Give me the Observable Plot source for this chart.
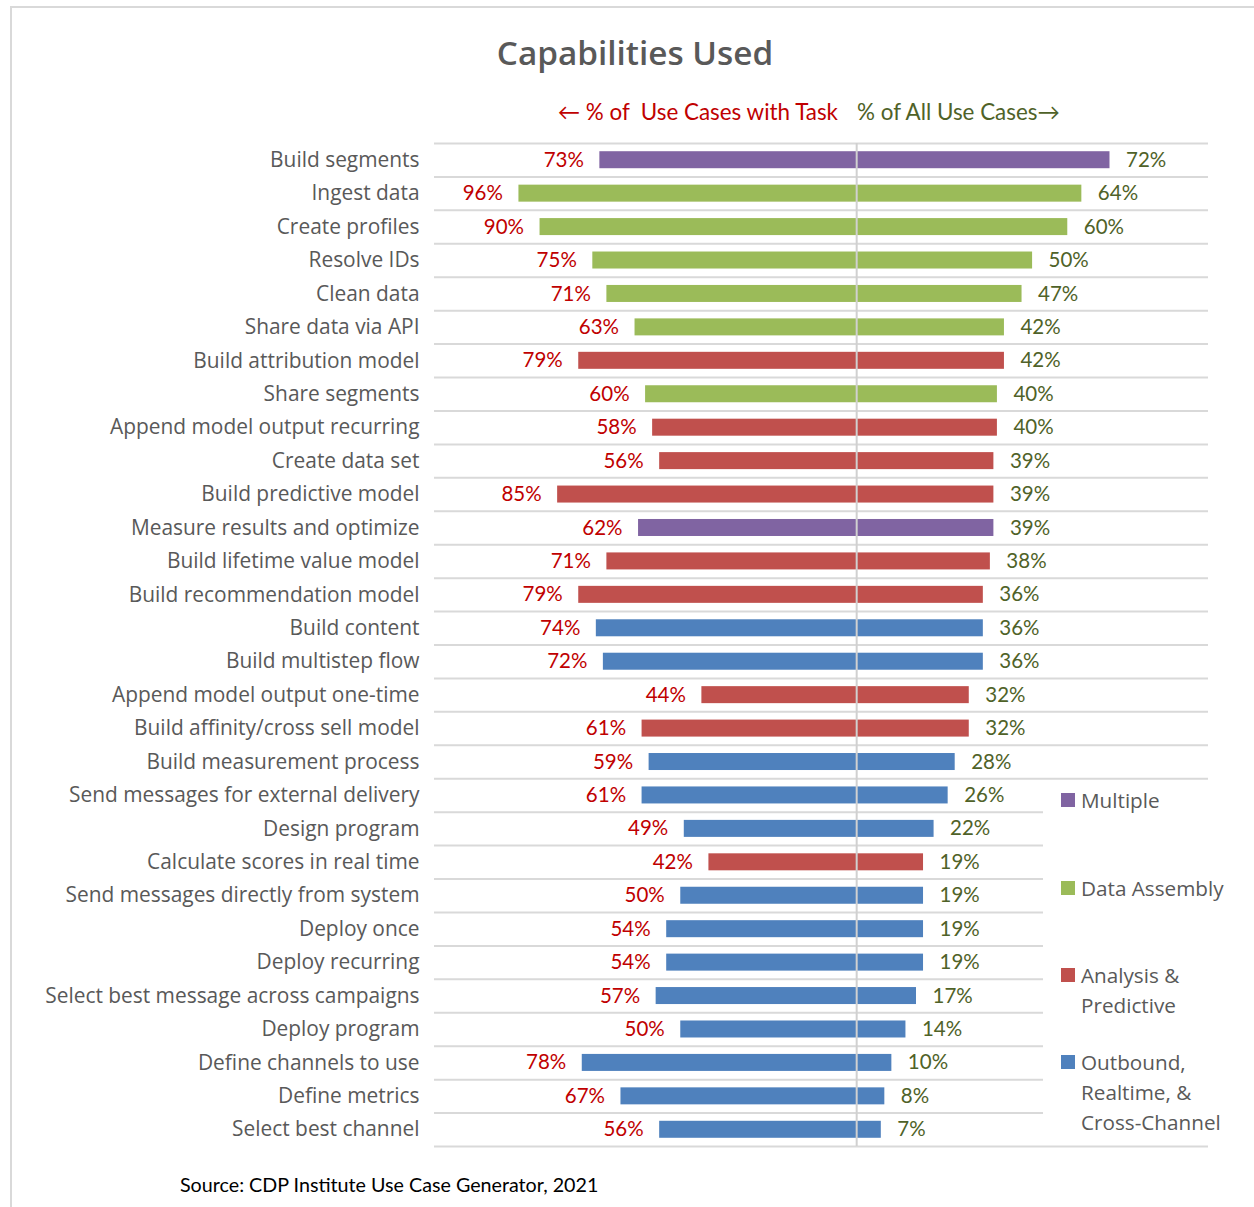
<!DOCTYPE html>
<html>
<head>
<meta charset="utf-8">
<script src="https://cdn.jsdelivr.net/npm/d3@7"></script>
<script src="https://cdn.jsdelivr.net/npm/@observablehq/plot@0.6"></script>
<style>
  body { margin: 0; background: #fff; font-family: Lato, "Noto Sans", sans-serif; }
  #page { position: relative; width: 1254px; height: 1207px; overflow: hidden; }
  #frame { position: absolute; left: 10px; top: 6px; width: 1300px; height: 1300px;
           border-left: 2px solid #d9d9d9; border-top: 2px solid #d9d9d9; }
  #chart { position: absolute; left: 0; top: 0; }
  #title { position: absolute; left: 0; width: 1270px; top: 29px; text-align: center;
           font-family: "Open Sans", sans-serif; font-weight: 600; font-size: 33.3px; color: #595959; white-space: nowrap; }
  .sub { position: absolute; top: 98px; font-size: 22.4px; white-space: nowrap; }
  #subL { right: 416px; color: #C00000; }
  #subR { left: 857px; color: #4F6228; }
  #legend { position: absolute; left: 1043px; top: 781px; width: 211px; height: 363px; background: #fff; }
  .item { position: absolute; left: 18px; font-family: "Open Sans", sans-serif; font-size: 20.7px; line-height: 30px; color: #595959; }
  .sw { position: absolute; left: 0; top: 8px; width: 14px; height: 14px; }
  .lab { position: absolute; left: 20px; top: 0; white-space: nowrap; }
  #footer { position: absolute; left: 180px; top: 1173px; font-size: 19.7px; color: #000; white-space: nowrap; }
</style>
</head>
<body>
<div id="page">
  <div id="frame"></div>
  <div id="chart"></div>
  <div id="title">Capabilities Used</div>
  <div class="sub" id="subL">← % of&nbsp; Use Cases with Task</div>
  <div class="sub" id="subR">% of All Use Cases→</div>
  <div id="legend"></div>
  <div id="footer">Source: CDP Institute Use Case Generator, 2021</div>
</div>
<script>
const tasks = [
  "Build segments", "Ingest data", "Create profiles", "Resolve IDs", "Clean data",
  "Share data via API", "Build attribution model", "Share segments",
  "Append model output recurring", "Create data set", "Build predictive model",
  "Measure results and optimize", "Build lifetime value model",
  "Build recommendation model", "Build content", "Build multistep flow",
  "Append model output one-time", "Build affinity/cross sell model",
  "Build measurement process", "Send messages for external delivery",
  "Design program", "Calculate scores in real time",
  "Send messages directly from system", "Deploy once", "Deploy recurring",
  "Select best message across campaigns", "Deploy program",
  "Define channels to use", "Define metrics", "Select best channel"
];
const pctWithTask = [73, 96, 90, 75, 71, 63, 79, 60, 58, 56, 85, 62, 71, 79, 74, 72, 44, 61, 59, 61, 49, 42, 50, 54, 54, 57, 50, 78, 67, 56];
const pctAll = [72, 64, 60, 50, 47, 42, 42, 40, 40, 39, 39, 39, 38, 36, 36, 36, 32, 32, 28, 26, 22, 19, 19, 19, 19, 17, 14, 10, 8, 7];
const M = "Multiple", D = "Data Assembly", A = "Analysis & Predictive", O = "Outbound, Realtime, & Cross-Channel";
const taskGroup = [M, D, D, D, D, D, A, D, A, A, A, M, A, A, O, O, A, A, O, O, O, A, O, O, O, O, O, O, O, O];
const groups = [M, D, A, O];
const groupLines = [["Multiple"], ["Data Assembly"], ["Analysis &", "Predictive"], ["Outbound,", "Realtime, &", "Cross-Channel"]];
const groupColors = ["#8064A2", "#9BBB59", "#C0504D", "#4F81BD"];

const rows = tasks.map((t, i) => ({ task: t, left: pctWithTask[i], right: pctAll[i], group: taskGroup[i] }));

const W = 1254, H = 1160, mT = 143, mB = 14;
const pitch = (H - mT - mB) / tasks.length;
const inset = (pitch - 17) / 2;

const chart = Plot.plot({
  width: W, height: H,
  marginLeft: 434, marginRight: 46, marginTop: mT, marginBottom: mB,
  x: { domain: [-120, 100], axis: null },
  y: { domain: tasks, padding: 0, round: false, axis: null },
  color: { domain: groups, range: groupColors },
  style: { fontFamily: "Lato, 'Noto Sans', sans-serif", fontSize: "20px", color: "#595959", background: "transparent", overflow: "visible" },
  marks: [
    Plot.ruleY(tasks, { y: d => d, dy: -pitch / 2, stroke: "#d9d9d9", strokeWidth: 2 }),
    Plot.ruleY(tasks.slice(-1), { y: d => d, dy: pitch / 2, stroke: "#d9d9d9", strokeWidth: 2 }),
    Plot.barX(rows, { y: "task", x1: 0, x2: d => -d.left, fill: "group", insetTop: inset, insetBottom: inset }),
    Plot.barX(rows, { y: "task", x1: 0, x2: "right", fill: "group", insetTop: inset, insetBottom: inset }),
    Plot.ruleX([0], { stroke: "#d0d0d0", strokeWidth: 2 }),
    Plot.axisY({ tickSize: 0, tickPadding: 15, fontSize: 20.9, fontFamily: "'Open Sans', sans-serif", fill: "#595959", label: null }),
    Plot.text(rows, { y: "task", x: d => -d.left, text: d => d.left + "%", textAnchor: "end", dx: -16, fill: "#C00000", fontSize: 20.5 }),
    Plot.text(rows, { y: "task", x: "right", text: d => d.right + "%", textAnchor: "start", dx: 16, fill: "#4F6228", fontSize: 20.5 })
  ]
});
document.getElementById("chart").appendChild(chart);

// legend
const legendTops = [4, 92, 179, 266];
const leg = document.getElementById("legend");
groups.forEach((g, i) => {
  const item = document.createElement("div");
  item.className = "item";
  item.style.top = legendTops[i] + "px";
  const sw = document.createElement("div");
  sw.className = "sw";
  sw.style.background = groupColors[i];
  item.appendChild(sw);
  groupLines[i].forEach((line, j) => {
    const l = document.createElement("div");
    l.className = "lab";
    l.style.top = (j * 30) + "px";
    l.textContent = line;
    item.appendChild(l);
  });
  leg.appendChild(item);
});
</script>
</body>
</html>
